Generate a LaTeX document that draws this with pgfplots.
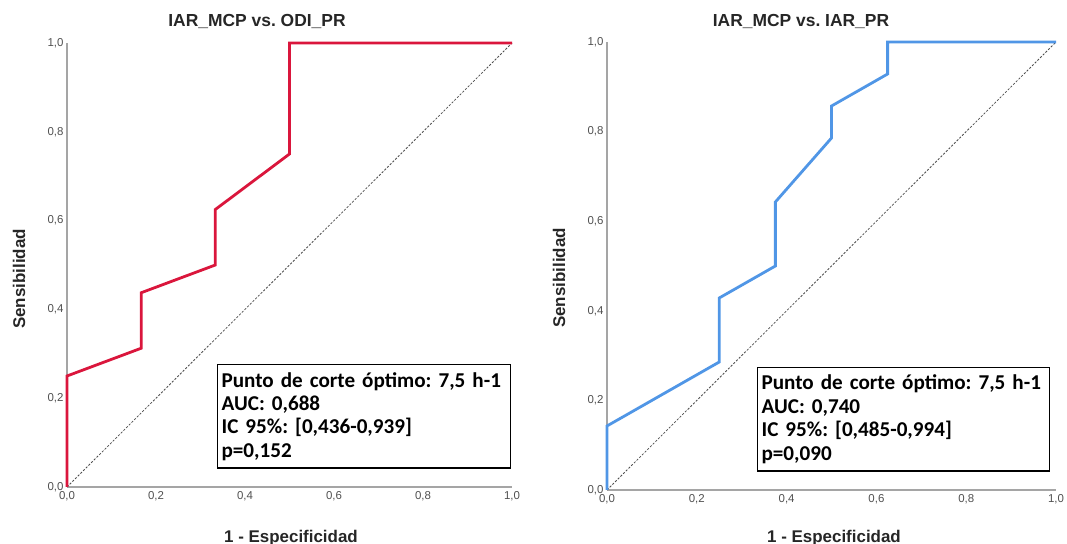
\documentclass[border=0pt]{standalone}
\usepackage{pgfplots}
\pgfplotsset{compat=1.18}
\usepackage{fontspec}
\setmainfont{Liberation Sans}
\newfontfamily\calibri{Carlito}
\definecolor{rocred}{RGB}{218,22,60}
\definecolor{rocblue}{RGB}{80,150,230}
\definecolor{axgray}{RGB}{165,165,165}
\definecolor{tickgray}{RGB}{80,80,80}
\pgfplotsset{rocax/.style={
  scale only axis, clip=false,
  xmin=0, xmax=1, ymin=0, ymax=1,
  axis x line=bottom, axis y line=left,
  axis line style={-, draw=axgray, line width=1.3bp},
  xtick={0,0.2,0.4,0.6,0.8,1}, ytick={0,0.2,0.4,0.6,0.8,1},
  major tick length=0pt,
  ticklabel style={font=\fontsize{11.5}{13}\selectfont, text=tickgray},
  xticklabel style={yshift=-1bp},
  /pgf/number format/fixed, /pgf/number format/fixed zerofill,
  /pgf/number format/precision=1, /pgf/number format/use comma,
  /pgf/number format/assume math mode=true,
}}
\newcommand{\boxfont}{\calibri\bfseries\frenchspacing\fontsize{21.2}{23.5}\selectfont}
\begin{document}
\frenchspacing
\begin{tikzpicture}[x=1bp,y=1bp]
\path[use as bounding box] (0,0) rectangle (1067,544);
% left
\begin{axis}[rocax, at={(67bp,57bp)}, anchor=origin, width=445bp, height=444bp]
\addplot[black!70, line width=0.8bp, dash pattern=on 2.2bp off 1.6bp] coordinates {(0,0) (1,1)};
\addplot[rocred, line width=2.8bp, line join=miter] coordinates {
(0,0) (0,0.25) (0.1667,0.3125) (0.1667,0.4375) (0.3333,0.5) (0.3333,0.625) (0.5,0.75) (0.5,1) (1,1)};
\node[draw=black, line width=1.3bp, anchor=north west, align=left, text width=285bp, inner xsep=4bp, inner ysep=7.5bp, font=\boxfont] at (rel axis cs:0.337,0.277)
{Punto de corte óptimo: 7,5 h-1\\AUC: 0,688\\IC 95\%: [0,436-0,939]\\p=0,152};
\end{axis}
% right
\begin{axis}[rocax, at={(607bp,54bp)}, anchor=origin, width=449bp, height=448bp]
\addplot[black!70, line width=0.8bp, dash pattern=on 2.2bp off 1.6bp] coordinates {(0,0) (1,1)};
\addplot[rocblue, line width=2.8bp, line join=miter] coordinates {
(0,0) (0,0.1429) (0.25,0.2857) (0.25,0.4286) (0.375,0.5) (0.375,0.6429) (0.5,0.7857) (0.5,0.8571) (0.625,0.9286) (0.625,1) (1,1)};
\node[draw=black, line width=1.3bp, anchor=north west, align=left, text width=284bp, inner xsep=4bp, inner ysep=7.5bp, font=\boxfont] at (rel axis cs:0.334,0.2746)
{Punto de corte óptimo: 7,5 h-1\\AUC: 0,740\\IC 95\%: [0,485-0,994]\\p=0,090};
\end{axis}
% titles and labels
\node[anchor=base, font=\bfseries\fontsize{17.5}{20}\selectfont, text=black!85] at (257,517) {IAR\_MCP vs. ODI\_PR};
\node[anchor=base, font=\bfseries\fontsize{17.5}{20}\selectfont, text=black!85] at (801,517) {IAR\_MCP vs. IAR\_PR};
\node[anchor=base, font=\bfseries\fontsize{17}{20}\selectfont, text=black!85] at (291,1.5) {1 - Especificidad};
\node[anchor=base, font=\bfseries\fontsize{17}{20}\selectfont, text=black!85] at (834,1.5) {1 - Especificidad};
\node[rotate=90, font=\bfseries\fontsize{17}{20}\selectfont, text=black!85] at (19,265) {Sensibilidad};
\node[rotate=90, font=\bfseries\fontsize{17}{20}\selectfont, text=black!85] at (559,266) {Sensibilidad};
\end{tikzpicture}
\end{document}
